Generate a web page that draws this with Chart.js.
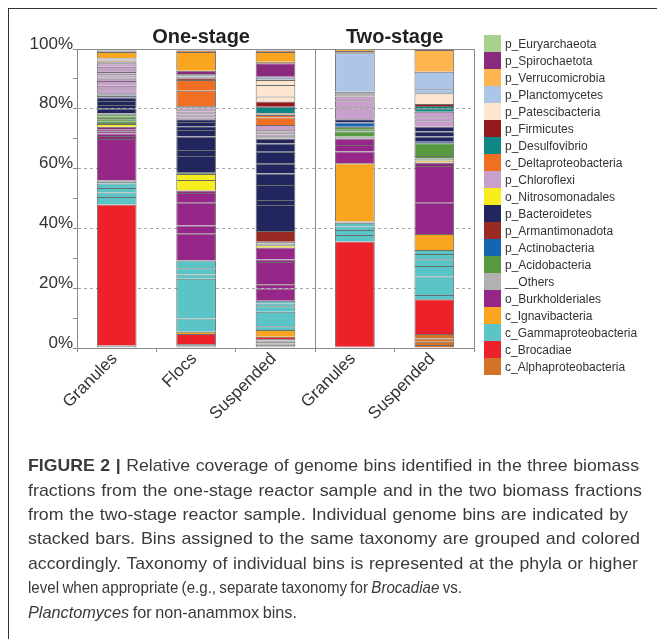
<!DOCTYPE html>
<html><head><meta charset="utf-8">
<script src="https://cdn.jsdelivr.net/npm/chart.js@4/dist/chart.umd.min.js"></script>
<style>
html,body{margin:0;padding:0;background:#fff;}
body{width:657px;height:639px;position:relative;overflow:hidden;font-family:"Liberation Sans",Arial,sans-serif;}
#frame{position:absolute;left:8px;top:8px;width:700px;height:700px;border-left:1px solid #333;border-top:1px solid #333;}
#c{position:absolute;left:0;top:0;}
.title{position:absolute;font-weight:bold;font-size:20px;line-height:normal;color:#231f20;white-space:nowrap;}
#legend{position:absolute;left:484px;top:35px;}
.li{height:17px;display:flex;align-items:center;}
.sw{width:17px;height:17px;flex:none;}
.lt{font-size:12px;color:#333;margin-left:4px;white-space:nowrap;}
.cap{position:absolute;left:28px;white-space:pre;font-family:"Liberation Sans",Arial,sans-serif;font-size:17px;line-height:normal;color:#3a3a3a;transform-origin:0 0;}
</style></head>
<body>
<div id="frame"></div>
<canvas id="c" width="657" height="639"></canvas>
<div id="legend"></div>
<script>
// ---- categories / labels ----
const samples = ['Granules', 'Flocs', 'Suspended', 'Granules', 'Suspended'];
const groupTitles = ['One-stage', 'Two-stage'];
const yTickLabels = [0, 20, 40, 60, 80, 100];

// taxa in legend order (top to bottom)
const taxaCodes = ['EUR','SPI','VER','PLA','PAT','FIR','DES','DEL','CHL','NIT','BAC','ARM','ACT','ACI','OTH','BUR','IGN','GAM','BRO','ALP'];
const taxaLabels = ['p_Euryarchaeota','p_Spirochaetota','p_Verrucomicrobia','p_Planctomycetes','p_Patescibacteria','p_Firmicutes','p_Desulfovibrio','c_Deltaproteobacteria','p_Chloroflexi','o_Nitrosomonadales','p_Bacteroidetes','p_Armantimonadota','p_Actinobacteria','p_Acidobacteria','__Others','o_Burkholderiales','c_Ignavibacteria','c_Gammaproteobacteria','c_Brocadiae','c_Alphaproteobacteria'];
const taxaColors = ['#A9D18E','#8A2A7F','#FDB64F','#ADC5E7','#FDE5CF','#93191D','#0F8684','#F06F23','#C8A0CB','#F7EC1C','#22265E','#9A2A24','#1565B0','#56993F','#B1B1B1','#962788','#F9A51F','#5BC4C6','#EC2129','#D47228'];

// ---- genome bins per sample (bottom to top): taxon code + relative coverage (%) ----
const oneGranulesBins = ['OTH','BRO','GAM','GAM','GAM','GAM','GAM','OTH','BUR','SPI','BUR','SPI','BUR','SPI','NIT','ACI','ACI','ACI','ACI','OTH','BAC','BAC','BAC','BAC','BAC','OTH','BAC','CHL','CHL','CHL','CHL','CHL','CHL','CHL','CHL','CHL','CHL','CHL','OTH','ALP','OTH','PLA','IGN','OTH','OTH'];
const oneGranulesCov  = [0.8,47.2,2.5,1.5,1.5,1.5,0.5,0.5,13.9,1.0,0.8,0.8,0.7,0.8,0.9,0.8,0.8,0.9,0.8,0.4,1.5,1.2,1.3,1.2,0.5,0.5,0.4,1.3,1.2,1.6,0.6,0.6,0.6,0.6,0.6,0.6,1.2,1.1,0.5,0.4,0.4,0.4,2.1,0.5,0.5];

const oneFlocsBins = ['OTH','OTH','OTH','BRO','IGN','GAM','GAM','GAM','GAM','GAM','BUR','BUR','BUR','BUR','BUR','NIT','NIT','ACI','BAC','BAC','BAC','BAC','BAC','BAC','BAC','CHL','CHL','CHL','OTH','CHL','CHL','CHL','CHL','OTH','DEL','DEL','FIR','OTH','PLA','OTH','SPI','IGN','ALP','OTH'];
const oneFlocsCov  = [0.4,0.5,0.4,3.4,0.7,4.5,13.3,1.4,2.1,2.6,8.9,2.8,7.6,3.2,0.9,3.5,2.0,0.4,5.6,2.0,4.5,2.2,1.3,1.4,0.9,0.5,0.5,0.5,0.5,0.5,0.5,0.5,0.5,0.4,5.1,3.6,0.6,0.5,0.5,0.4,1.1,6.3,0.5,0.5];

const oneSuspendedBins = ['OTH','OTH','OTH','OTH','OTH','OTH','BRO','IGN','GAM','GAM','GAM','GAM','GAM','BUR','BUR','BUR','BUR','BUR','NIT','OTH','OTH','ARM','BAC','BAC','BAC','BAC','BAC','BAC','BAC','BAC','OTH','CHL','OTH','CHL','OTH','CHL','DEL','DEL','OTH','DEL','DES','FIR','PAT','PAT','PAT','PLA','PLA','SPI','ALP','IGN','ALP','OTH'];
const oneSuspendedCov  = [0.5,0.5,0.5,0.5,0.5,0.5,0.8,2.2,1.3,4.8,1.9,0.9,0.9,4.1,1.4,7.5,0.8,4.0,0.8,0.5,0.6,3.6,8.7,1.7,5.0,3.9,3.2,4.0,2.8,1.6,0.8,0.5,0.5,0.6,0.5,1.7,2.5,0.8,0.3,0.3,2.2,1.7,1.7,3.9,1.6,0.6,0.5,4.5,0.5,3.3,0.5,0.5];

const twoGranulesBins = ['OTH','BRO','GAM','GAM','GAM','GAM','OTH','IGN','BUR','BUR','BUR','OTH','ACI','ACI','ACI','ACT','BAC','CHL','CHL','CHL','OTH','OTH','PLA','OTH','VER'];
const twoGranulesCov  = [0.4,35.2,2.2,1.7,1.1,1.3,0.4,19.5,3.9,2.2,2.2,0.6,1.7,0.8,0.8,1.4,1.1,4.0,2.4,1.2,0.8,0.8,12.9,0.7,0.7];

const twoSuspendedBins = ['ALP','ALP','ALP','ALP','BRO','GAM','GAM','GAM','GAM','GAM','GAM','IGN','BUR','BUR','SPI','NIT','OTH','ACI','ACI','ACT','BAC','BAC','BAC','CHL','CHL','CHL','DES','DES','FIR','PAT','PLA','PLA','VER','OTH'];
const twoSuspendedCov  = [1.0,1.1,1.1,1.5,11.6,1.4,6.2,3.5,2.3,1.7,1.4,5.3,10.5,12.3,1.1,0.7,0.7,0.8,4.3,0.5,1.7,1.7,1.6,2.2,1.3,1.5,1.0,0.9,0.7,3.6,1.3,5.9,7.3,0.3];

// ---- build datasets ----
const sampleBins = [oneGranulesBins, oneFlocsBins, oneSuspendedBins, twoGranulesBins, twoSuspendedBins];
const sampleCov  = [oneGranulesCov, oneFlocsCov, oneSuspendedCov, twoGranulesCov, twoSuspendedCov];
const colorOf = code => taxaColors[taxaCodes.indexOf(code)];
const maxBins = Math.max(...sampleBins.map(b => b.length));
const datasets = [];
for (let j = 0; j < maxBins; j++) {
  datasets.push({
    data: sampleCov.map(c => (j < c.length ? c[j] : null)),
    backgroundColor: sampleBins.map(b => (j < b.length ? colorOf(b[j]) : 'rgba(0,0,0,0)')),
    borderColor: 'rgba(60,60,60,0.75)',
    borderWidth: {top: 1, left: 1, right: 1, bottom: 0},
    borderSkipped: false,
    barPercentage: 0.5,
    categoryPercentage: 1.0
  });
}

// ---- legend (HTML) ----
const lg = document.getElementById('legend');
taxaLabels.forEach((t, i) => {
  const row = document.createElement('div'); row.className = 'li';
  const sw = document.createElement('div'); sw.className = 'sw'; sw.style.background = taxaColors[i];
  const tx = document.createElement('span'); tx.className = 'lt'; tx.textContent = t;
  row.appendChild(sw); row.appendChild(tx); lg.appendChild(row);
});

// ---- plugin: plot box and group divider ----
const boxPlugin = {
  id: 'box',
  afterDatasetsDraw(chart) {
    const {ctx, chartArea: a, scales: {x}} = chart;
    ctx.save();
    ctx.strokeStyle = '#8a8a8a';
    ctx.lineWidth = 1;
    ctx.beginPath();
    ctx.moveTo(a.left, a.top + 0.5); ctx.lineTo(a.right + 0.5, a.top + 0.5); ctx.lineTo(a.right + 0.5, a.bottom);
    const xd = Math.round((x.getPixelForValue(2) + x.getPixelForValue(3)) / 2) + 0.5;
    ctx.moveTo(xd, a.top); ctx.lineTo(xd, a.bottom);
    ctx.stroke();
    ctx.restore();
  }
};

Chart.defaults.font.family = '"Liberation Sans", Arial, sans-serif';
const chart = new Chart(document.getElementById('c'), {
  type: 'bar',
  data: {labels: samples, datasets},
  options: {
    responsive: false, animation: false, devicePixelRatio: 1,
    layout: {padding: {left: 0, top: 49, right: 183, bottom: 191}},
    plugins: {legend: {display: false}, tooltip: {enabled: false}},
    scales: {
      x: {
        stacked: true, offset: true,
        afterFit(s) { s.height = 100; },
        grid: {offset: true, drawOnChartArea: false, tickLength: 4, color: '#8a8a8a', tickColor: '#8a8a8a'},
        border: {color: '#8a8a8a'},
        ticks: {minRotation: 45, maxRotation: 45, autoSkip: false, padding: -3, labelOffset: -2, color: '#333', font: {size: 17}}
      },
      y: {
        stacked: true, min: 0, max: 100,
        afterFit(s) { s.width = 77; },
        afterBuildTicks(s) { s.ticks = [0,10,20,30,40,50,60,70,80,90,100].map(v => ({value: v})); },
        grid: {
          color: c => (c.tick && yTickLabels.includes(c.tick.value) && c.tick.value > 0 && c.tick.value < 100) ? '#a8a8a8' : 'rgba(0,0,0,0)',
          tickColor: '#8a8a8a', tickLength: 4, lineWidth: 1
        },
        border: {color: '#8a8a8a', dash: [3, 3]},
        ticks: {
          autoSkip: false, padding: 0, labelOffset: -5, color: '#333', font: {size: 17},
          callback: v => (yTickLabels.includes(v) ? v + '%' : '')
        }
      }
    }
  },
  plugins: [boxPlugin]
});

// ---- group titles ----
const xs = chart.scales.x;
[[0, 1, 2], [3, 4]].forEach((idx, g) => {
  const d = document.createElement('div'); d.className = 'title'; d.textContent = groupTitles[g];
  document.body.appendChild(d);
  const cx = (xs.getPixelForValue(idx[0]) + xs.getPixelForValue(idx[idx.length - 1])) / 2 + (g === 0 ? 5 : 0);
  d.style.left = (cx - d.getBoundingClientRect().width / 2) + 'px';
  d.style.top = (43 - 0.905 * 20) + 'px';
});

// ---- caption ----
const captionLines = [
  '<b>FIGURE 2 |</b> Relative coverage of genome bins identified in the three biomass',
  'fractions from the one-stage reactor sample and in the two biomass fractions',
  'from the two-stage reactor sample. Individual genome bins are indicated by',
  'stacked bars. Bins assigned to the same taxonomy are grouped and colored',
  'accordingly. Taxonomy of individual bins is represented at the phyla or higher',
  'level when appropriate (e.g., separate taxonomy for <i>Brocadiae</i> vs.',
  '<i>Planctomyces</i> for non-anammox bins.'
];
const captionWidths = [611, 614, 600, 612, 610, 434, 269];
captionLines.forEach((h, i) => {
  const d = document.createElement('div'); d.className = 'cap'; d.innerHTML = h;
  d.style.top = (471.5 + i * 24.4 - 0.905 * 17) + 'px';
  document.body.appendChild(d);
  const w = d.getBoundingClientRect().width;
  const nSp = (d.textContent.match(/ /g) || []).length;
  const s = captionWidths[i] / w;
  const g = Math.pow(s, 0.75);
  const ws = Math.max(-1, (captionWidths[i] / g - w) / nSp);
  d.style.wordSpacing = ws + 'px';
  const w2 = d.getBoundingClientRect().width;
  d.style.transform = 'scaleX(' + (captionWidths[i] / w2) + ')';
});
</script>
</body></html>
